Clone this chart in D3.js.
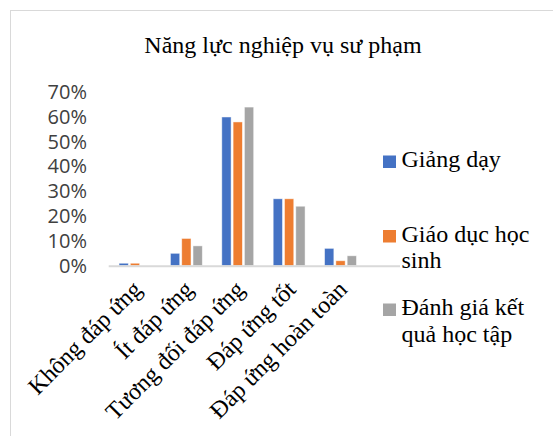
<!DOCTYPE html>
<html>
<head>
<meta charset="utf-8">
<script src="https://cdn.jsdelivr.net/npm/d3@7"></script>
<style>
  html, body { margin: 0; padding: 0; background: #fff; }
  svg { display: block; }
</style>
</head>
<body>
<svg id="chart" width="553" height="436"></svg>
<script>
// Categories and series values (share of responses)
const categories = ["Không đáp ứng", "Ít đáp ứng", "Tương đối đáp ứng", "Đáp ứng tốt", "Đáp ứng hoàn toàn"];
const seriesNames = ["Giảng dạy", "Giáo dục học sinh", "Đánh giá kết quả học tập"];
const giangDay = [0.01, 0.05, 0.60, 0.27, 0.07];
const giaoDucHocSinh = [0.01, 0.11, 0.58, 0.27, 0.02];
const danhGiaKetQua = [0.00, 0.08, 0.64, 0.24, 0.04];
const yTicks = [0, 0.1, 0.2, 0.3, 0.4, 0.5, 0.6, 0.7];
const colors = ["#4472C4", "#ED7D31", "#A5A5A5"];
const legendLines = [["Giảng dạy"], ["Giáo dục học", "sinh"], ["Đánh giá kết", "quả học tập"]];

const series = [giangDay, giaoDucHocSinh, danhGiaKetQua];
const svg = d3.select("#chart");
const serif = "'Liberation Serif', 'Times New Roman', serif";

// Chart frame
svg.append("rect")
  .attr("x", 10.5).attr("y", 10.5)
  .attr("width", 560).attr("height", 440)
  .attr("fill", "#fff").attr("stroke", "#d9d9d9").attr("stroke-width", 1);

// Title
svg.append("text")
  .attr("x", 283).attr("y", 53)
  .attr("text-anchor", "middle")
  .style("font-family", serif)
  .style("font-size", "24px")
  .attr("fill", "#000")
  .text("Năng lực nghiệp vụ sư phạm");

const x = d3.scaleBand().domain(categories).range([109.3, 366.2]).paddingInner(0).paddingOuter(0);
const barW = 9.3, barStep = 11.3;
const groupW = barStep * (series.length - 1) + barW;

const y = d3.scaleLinear().domain([0, 0.7]).range([265.7, 92.2]);

// Y axis labels
const yAxis = d3.axisLeft(y).tickValues(yTicks).tickFormat(d3.format(".0%")).tickSize(0).tickPadding(0);
const yg = svg.append("g").attr("transform", "translate(87,0)").call(yAxis);
yg.select(".domain").remove();
yg.selectAll("text")
  .style("font-family", "'Open Sans', sans-serif")
  .style("font-size", "20px")
  .attr("fill", "#404040");

// Bars
series.forEach((vals, si) => {
  svg.append("g").selectAll("rect").data(vals).join("rect")
    .attr("x", (d, i) => x(categories[i]) + (x.bandwidth() - groupW) / 2 + si * barStep)
    .attr("width", barW)
    .attr("y", d => y(d))
    .attr("height", d => y(0) - y(d))
    .attr("fill", colors[si])
    .attr("stroke", "#fff").attr("stroke-opacity", 0.6).attr("stroke-width", 0.8);
});

// Category axis
const xAxis = d3.axisBottom(x).tickSize(0).tickPadding(0);
const xg = svg.append("g").attr("transform", `translate(0,${y(0)})`).call(xAxis);
xg.select(".domain").remove();
svg.append("line")
  .attr("x1", x.range()[0] - 0.6).attr("x2", 400)
  .attr("y1", y(0) + 0.5).attr("y2", y(0) + 0.5)
  .attr("stroke", "#d9d9d9").attr("stroke-width", 2);
xg.selectAll("text")
  .attr("y", 0).attr("dy", 0)
  .attr("text-anchor", "end")
  .attr("transform", "translate(8,25) rotate(-45)")
  .style("font-family", serif)
  .style("font-size", "24px")
  .attr("fill", "#000");

// Legend
const legend = svg.append("g");
const rowY = [167, 241.5, 315];
legendLines.forEach((lines, i) => {
  legend.append("rect")
    .attr("x", 383).attr("y", rowY[i] - 11.5)
    .attr("width", 13).attr("height", 12.5)
    .attr("fill", colors[i]);
  const t = legend.append("text")
    .attr("x", 401.5).attr("y", rowY[i])
    .style("font-family", serif)
    .style("font-size", "24px")
    .attr("fill", "#000");
  lines.forEach((ln, j) => {
    t.append("tspan").attr("x", 401.5).attr("dy", j === 0 ? 0 : 26.7).text(ln);
  });
});
</script>
</body>
</html>
